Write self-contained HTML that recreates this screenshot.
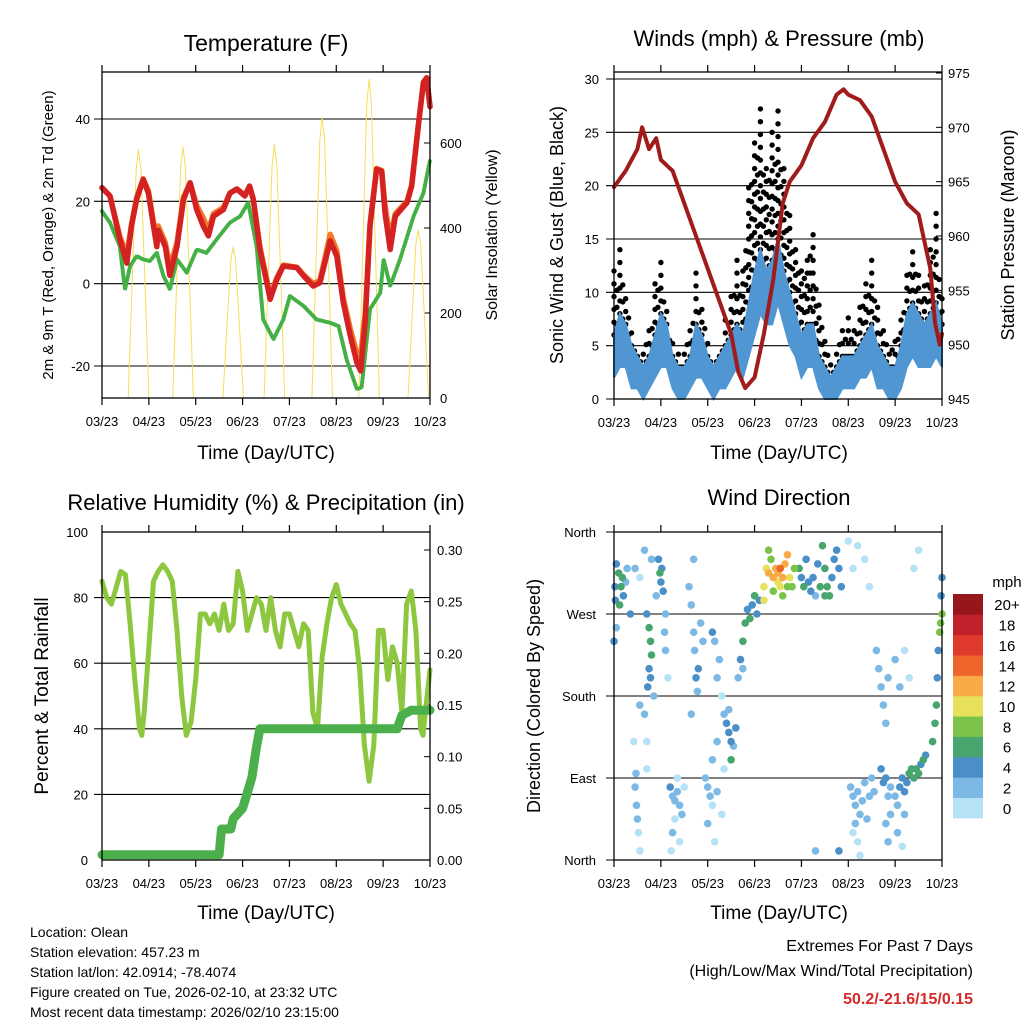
<!DOCTYPE html>
<html><head><meta charset="utf-8"><style>
html,body{margin:0;padding:0;background:#fff}
svg{display:block}
text{font-family:"Liberation Sans",Arial,sans-serif;fill:#000}
</style></head><body>
<svg id="root" width="1024" height="1024" viewBox="0 0 1024 1024" xmlns="http://www.w3.org/2000/svg">
<text x="266" y="51" font-size="23" text-anchor="middle">Temperature (F)</text>
<text x="779" y="46" font-size="22" text-anchor="middle">Winds (mph) &amp; Pressure (mb)</text>
<text x="266" y="510" font-size="22" text-anchor="middle">Relative Humidity (%) &amp; Precipitation (in)</text>
<text x="779" y="505" font-size="22" text-anchor="middle">Wind Direction</text>
<text x="266" y="459" font-size="19" text-anchor="middle">Time (Day/UTC)</text>
<text x="779" y="459" font-size="19" text-anchor="middle">Time (Day/UTC)</text>
<text x="266" y="919" font-size="19" text-anchor="middle">Time (Day/UTC)</text>
<text x="779" y="919" font-size="19" text-anchor="middle">Time (Day/UTC)</text>
<text transform="translate(53,235) rotate(-90)" font-size="15" text-anchor="middle">2m &amp; 9m T (Red, Orange) &amp; 2m Td (Green)</text>
<text transform="translate(497,235) rotate(-90)" font-size="16" text-anchor="middle">Solar Insolation (Yellow)</text>
<text transform="translate(563,235) rotate(-90)" font-size="18" text-anchor="middle">Sonic Wind &amp; Gust (Blue, Black)</text>
<text transform="translate(1014,235) rotate(-90)" font-size="18" text-anchor="middle">Station Pressure (Maroon)</text>
<text transform="translate(48,696) rotate(-90)" font-size="19" text-anchor="middle">Percent &amp; Total Rainfall</text>
<text transform="translate(540,696) rotate(-90)" font-size="18" text-anchor="middle">Direction (Colored By Speed)</text>
<g font-size="14">
<text x="30" y="937">Location: Olean</text>
<text x="30" y="957">Station elevation: 457.23 m</text>
<text x="30" y="977">Station lat/lon: 42.0914; -78.4074</text>
<text x="30" y="997">Figure created on Tue, 2026-02-10, at 23:32 UTC</text>
<text x="30" y="1017">Most recent data timestamp: 2026/02/10 23:15:00</text>
</g>
<g font-size="16" text-anchor="end">
<text x="973" y="951">Extremes For Past 7 Days</text>
<text x="973" y="976">(High/Low/Max Wind/Total Precipitation)</text>
<text x="973" y="1004" font-weight="bold" style="fill:#d42a2a">50.2/-21.6/15/0.15</text>
</g>
</svg>
<script>
// ---------- data ----------
const xTickLabels = ["03/23","04/23","05/23","06/23","07/23","08/23","09/23","10/23"];
const tempT = [0,.17,.38,.53,.63,.74,.88,.99,1.1,1.17,1.2,1.35,1.45,1.6,1.74,1.88,2.02,2.16,2.27,2.38,2.59,2.73,2.88,3.05,3.15,3.23,3.37,3.59,3.73,3.87,4.16,4.3,4.51,4.65,4.87,5.01,5.15,5.3,5.44,5.52,5.62,5.72,5.86,5.97,6.04,6.15,6.26,6.51,6.61,6.75,6.86,6.93,7];
const tempRed = [23.3,21.3,10.8,5,14,20.5,25.3,22,14,9,13,9,2,9,20.5,24.5,18,14,11.6,16.4,18,22,23,21.3,23.7,20.5,8.3,-3.8,1,4.3,3.9,1.9,-0.6,0.2,10.4,6.7,-4.6,-12.7,-19.2,-21.2,-8.7,14,27.8,27.3,17.2,8.3,16.4,19.7,23.7,38.3,48.8,50,43];
const tempOrange = [23.3,21.3,11.5,7,14.5,21,25.5,22.5,15,10.5,14,10,4,10,21,24.5,19,16,13,17,18.5,22,23,21.5,23.7,20.5,9,-3,1.5,4.5,4,2.2,0,0.8,12,8,-3.5,-11,-17,-17.5,-7,14.5,28,27.5,19,11,17,20,24,38.5,49,50,43];
const dewT = [0,.17,.38,.49,.6,.74,.88,1.02,1.17,1.31,1.45,1.6,1.81,2.02,2.23,2.45,2.73,2.95,3.12,3.3,3.44,3.66,3.87,4.01,4.3,4.58,4.87,5.05,5.22,5.44,5.54,5.72,5.94,6.01,6.15,6.36,6.65,6.86,7];
const dewVal = [17.6,14.8,9.1,-1.4,4.3,6.7,5.9,5.5,7.5,1.9,-1.4,5.9,2.7,8.3,7.5,10.8,14.8,16.4,19.7,9.1,-8.7,-13.5,-8.7,-3,-5.4,-8.7,-9.5,-10.3,-18.4,-25.6,-25.2,-6.2,-2.2,5.9,-0.6,5.9,16.4,22,30];
const solarNoon = [0.78,1.73,2.8,3.68,4.7,5.7,6.75];
const solarPeak = [585,590,355,596,660,750,395];
const tempYTicks = [40,20,0,-20];
const solarTicks = [0,200,400,600];

const windT = [0,.125,.25,.375,.5,.625,.75,.875,1,1.125,1.25,1.375,1.5,1.625,1.75,1.875,2,2.125,2.25,2.375,2.5,2.625,2.75,2.875,3,3.125,3.25,3.375,3.5,3.625,3.75,3.875,4,4.125,4.25,4.375,4.5,4.625,4.75,4.875,5,5.125,5.25,5.375,5.5,5.625,5.75,5.875,6,6.125,6.25,6.375,6.5,6.625,6.75,6.875,7];
const windHi = [6,8,7,5,4,3,4,6,8,7,4,3,3,4,7,6,4,3,4,5,6,7,6,9,12,14,12,13,15,12,10,8,6,7,7,4,3,2,3,4,4,4,5,6,7,5,4,3,3,5,8,9,8,7,8,9,7];
const windLo = [2,3,3,1,1,0,1,2,3,3,1,0,0,1,2,2,1,0,1,1,2,3,2,4,6,8,7,7,9,7,5,4,2,3,3,1,0,0,0,1,1,1,2,2,3,1,1,0,0,1,3,4,3,3,3,4,3];
const gust = [12,14,10,7,5,5,7,11,13,9,6,5,5,7,12,9,6,4,5,8,10,13,12,20,25,28,22,25,27,22,18,15,12,14,16,9,6,4,5,7,8,7,9,11,13,9,7,5,6,8,12,14,12,11,14,18,10];
const presT = [0,.25,.5,.6,.75,.9,1,1.25,1.5,1.75,2,2.25,2.5,2.65,2.8,3,3.2,3.4,3.6,3.75,4,4.25,4.5,4.75,4.9,5,5.25,5.5,5.75,6,6.25,6.5,6.75,6.85,6.95,7];
const presVal = [964.5,966,968,970,968,969,967,966,963,960,957,954,951,947.5,946,947,951,956,963,965,966.5,969,970.5,973,973.5,973,972.5,971,968,965,963,962,957,952,950,951];
const windTicks = [0,5,10,15,20,25,30];
const presTicks = [945,950,955,960,965,970,975];

const rhT = [0,.1,.2,.3,.4,.5,.6,.7,.8,.85,.9,1,1.1,1.2,1.3,1.4,1.5,1.6,1.7,1.8,1.9,2,2.1,2.2,2.3,2.4,2.5,2.6,2.7,2.8,2.9,3,3.1,3.2,3.3,3.4,3.5,3.6,3.7,3.8,3.9,4,4.1,4.2,4.3,4.4,4.5,4.6,4.7,4.8,4.9,5,5.1,5.2,5.3,5.4,5.5,5.6,5.7,5.8,5.9,6,6.1,6.2,6.3,6.4,6.5,6.6,6.7,6.8,6.85,6.9,7];
const rhVal = [85,80,78,83,88,87,72,55,40,38,45,65,85,88,90,88,85,70,50,38,42,55,75,75,72,75,70,78,70,72,88,82,70,75,80,78,70,80,70,65,75,75,70,65,72,70,45,40,62,72,80,84,78,75,72,70,58,35,24,35,70,70,55,65,60,45,78,82,70,40,38,45,58];
const precipT = [0,2.5,2.55,2.75,2.8,3.0,3.1,3.2,3.3,3.37,6.3,6.4,6.6,7.0];
const precipVal = [0.005,0.005,0.03,0.03,0.04,0.05,0.065,0.08,0.11,0.127,0.127,0.14,0.145,0.145];
const rhTicks = [0,20,40,60,80,100];
const precipTicks = ["0.00","0.05","0.10","0.15","0.20","0.25","0.30"];

const wdT = [0.02,0.03,0.05,0.1,0.15,0.2,0.25,0.28,0.35,0.0,0.05,0.12,0.18,
0.45,0.48,0.5,0.52,0.55,0.47,0.42,0.55,0.45,0.55,
0.7,0.75,0.78,0.8,0.75,0.72,0.78,0.85,0.65,0.7,0.7,0.8,0.65,
0.95,0.98,1.0,1.02,0.9,1.05,1.1,1.08,1.1,1.15,
1.2,1.25,1.3,1.35,1.4,1.3,1.25,1.22,1.4,1.35,1.45,1.5,
1.6,1.65,1.7,1.72,1.75,1.8,1.78,1.85,1.9,1.7,1.65,
1.95,2.0,2.05,2.1,2.0,2.15,2.2,2.3,2.35,2.1,2.2,2.1,2.15,2.2,2.25,2.3,
2.4,2.45,2.5,2.55,2.6,2.5,2.35,2.45,
2.65,2.7,2.75,2.8,2.85,2.9,2.95,3.0,3.05,3.1,2.75,
3.2,3.25,3.3,3.35,3.4,3.45,3.5,3.55,3.6,3.65,3.7,3.75,3.8,3.85,3.4,3.55,3.3,3.2,3.5,3.7,3.6,
3.95,4.0,4.05,4.1,4.15,4.2,4.25,4.3,4.35,4.45,4.5,4.55,4.6,4.65,4.75,4.8,4.85,4.7,4.4,4.5,4.3,4.8,
5.05,5.1,5.15,5.2,5.25,5.3,5.35,5.4,5.1,5.2,5.25,5.45,5.5,5.55,5.15,5.0,5.2,5.35,5.1,5.45,
5.6,5.65,5.7,5.75,5.8,5.85,5.7,5.75,5.8,5.85,5.9,5.8,5.85,5.9,
6.0,6.05,6.1,6.15,6.2,6.25,6.3,6.35,6.4,6.45,6.5,6.55,6.6,6.65,6.05,6.15,6.2,6.0,6.1,6.2,6.3,6.4,6.5,
6.8,6.85,6.88,6.9,6.92,6.95,6.97,7.0,6.98,7.0];
const wdDir = [300,285,325,315,300,290,305,320,270,240,255,280,310,
80,60,45,30,10,95,130,170,320,310,
270,255,240,225,210,190,200,180,160,130,100,330,340,
330,315,305,320,290,295,270,250,230,200,
80,70,65,75,60,45,30,10,20,90,50,80,
300,280,250,230,200,210,185,260,240,330,160,
90,80,70,60,40,20,75,50,100,110,130,250,240,200,220,180,
150,140,130,125,145,110,160,165,
200,220,240,260,275,265,280,290,270,285,210,
300,320,340,330,310,320,315,320,310,325,335,310,300,320,295,300,315,285,305,300,290,
320,310,300,330,305,295,310,290,325,345,320,300,290,310,340,320,300,330,300,290,10,10,
80,70,60,75,50,65,85,45,30,20,5,70,90,75,40,350,345,330,320,300,
230,210,190,170,150,200,100,85,90,70,50,40,20,80,
70,60,80,90,75,85,95,100,90,100,95,105,110,115,30,15,50,220,190,230,200,320,340,
130,150,170,200,230,250,260,270,290,310];
const wdSpd = [4,4,5,6,6,4,3,3,4,4,3,6,6,
3,2,2,1,1,2,1,2,2,1,
4,7,6,6,4,4,4,3,2,1,1,3,2,
4,6,5,4,3,4,2,2,2,1,
4,3,2,2,2,1,2,1,1,1,2,1,
2,2,3,3,4,4,3,2,2,2,2,
2,3,2,1,2,1,2,1,1,2,2,4,3,2,2,1,
4,4,4,3,4,6,2,3,
3,4,6,6,4,7,5,6,4,4,2,
10,10,8,8,12,13,12,14,12,13,12,10,8,9,8,10,12,10,11,9,8,
7,4,6,5,4,4,4,3,4,7,7,6,7,5,4,4,4,4,6,7,3,4,
2,2,2,2,2,3,2,2,1,1,1,3,2,3,2,1,1,1,1,1,
3,2,3,2,3,2,4,4,4,3,2,2,2,3,
3,2,4,5,4,5,6,6,7,6,6,5,6,5,2,1,2,2,2,1,1,1,1,
6,6,6,4,4,8,8,8,4,4];
const speedColors = ["#b6e2f7","#7cb9e4","#4a8fc8","#48a56e","#7ac24a","#e6e05a","#f8aa46","#f0652a","#df3a2c","#c0212a","#96171b"];
const speedLabels = ["0","2","4","6","8","10","12","14","16","18","20+"];
const dirLabels = ["North","East","South","West","North"];
const dirTicks = [0,90,180,270,360];

// ---------- helpers ----------
const NS="http://www.w3.org/2000/svg";
const root=document.getElementById('root');
function mk(tag,attrs,parent){const e=document.createElementNS(NS,tag);for(const k in attrs)e.setAttribute(k,attrs[k]);(parent||root).appendChild(e);return e;}
function lin(d0,d1,r0,r1){return v=>r0+(v-d0)*(r1-r0)/(d1-d0);}

function frame(x0,y0,x1,y1,name){
  const g=mk('g',{});
  
  
  const xs=lin(0,7,x0,x1);
  for(let i=0;i<8;i++){
    const x=xs(i);
    const t1=mk('line',{x1:x,y1:y1,x2:x,y2:y1+7,stroke:'#000','stroke-width':1.2},g);
    
    
    mk('line',{x1:x,y1:y0,x2:x,y2:y0-7,stroke:'#000','stroke-width':1.2},g);
    const tx=mk('text',{x:x,y:y1+28,'font-size':13,'text-anchor':'middle'},g);
    tx.textContent=xTickLabels[i];
    
    
  }
  const r=mk('rect',{x:x0,y:y0,width:x1-x0,height:y1-y0,fill:'none',stroke:'#000','stroke-width':1.3},g);
  
  
  return xs;
}
function grid(y,x0,x1){
  const l=mk('line',{x1:x0-8,y1:y,x2:x1,y2:y,stroke:'#000','stroke-width':1.1});
  
  
}
function label(txt,x,y,anchor,name){
  const t=mk('text',{x:x,y:y+5,'font-size':13,'text-anchor':anchor});
  t.textContent=txt;
  
  
}
function poly(xsArr,ysArr,xs,ys,attrs,name){
  const pts=xsArr.map((t,i)=>xs(t).toFixed(1)+','+ys(ysArr[i]).toFixed(1)).join(' ');
  const p=mk('polyline',Object.assign({points:pts,fill:'none','stroke-linejoin':'round','stroke-linecap':'round'},attrs));
  
  
  return p;
}

// ---------- Panel 1: temperature ----------
(function(){
  const x0=102,x1=430,y0=72,y1=398;
  const ys=lin(40,-20,119,366);
  const ss=lin(0,600,398,143);
  const xs=lin(0,7,x0,x1);
  tempYTicks.forEach(v=>{grid(ys(v),x0,x1);label(String(v),x0-12,ys(v),'end','temp-y-tick-label');});
  solarTicks.forEach(v=>{label(String(v),x1+10,ss(v),'start','solar-tick-label');
    const tk=mk('line',{x1:x1,y1:ss(v),x2:x1-6,y2:ss(v),stroke:'#000'});
    
    });
  solarNoon.forEach((n,i)=>{
    const ts=[n-0.22,n-0.12,n-0.05,n,n+0.05,n+0.12,n+0.22];
    const fr=[0,0.55,0.92,1,0.92,0.55,0];
    const vs=fr.map(f=>f*solarPeak[i]);
    poly(ts,vs,xs,v=>ss(Math.min(v,760)),{stroke:'#f7de5a','stroke-width':1},'solar-day-'+i);
  });
  poly(dewT,dewVal,xs,ys,{stroke:'#45b045','stroke-width':4,'stroke-dasharray':'2 2'},'dewpoint-line');
  poly(tempT,tempOrange,xs,ys,{stroke:'#f2792a','stroke-width':5.5},'temp-9m-line');
  poly(tempT,tempRed,xs,ys,{stroke:'#d42222','stroke-width':5.5},'temp-2m-line');
  frame(x0,y0,x1,y1,'temperature');
})();

// ---------- Panel 2: winds ----------
(function(){
  const x0=614,x1=942,y0=72,y1=399;
  const ws=lin(0,30,399,79);
  const ps=lin(945,975,399,73);
  const xs=lin(0,7,x0,x1);
  windTicks.forEach(v=>{grid(ws(v),x0,x1);label(String(v),x0-15,ws(v),'end','wind-tick-label');});
  presTicks.forEach(v=>{label(String(v),x1+6,ps(v),'start','pressure-tick-label');
    const tk=mk('line',{x1:x1,y1:ps(v),x2:x1-6,y2:ps(v),stroke:'#000'});
    
    });
  // black gust dots: columns of dots from sonic high up to gust value
  windT.forEach((t,i)=>{
    for(let v=windHi[i]; v<=gust[i]+0.01; v+=1.2){
      const c=mk('circle',{cx:xs(t).toFixed(1),cy:ws(v).toFixed(1),r:2.7,fill:'#000'});
      
      
    }
    if(i<windT.length-1){
      const tm=(t+windT[i+1])/2, gm=(gust[i]+gust[i+1])/2, hm=(windHi[i]+windHi[i+1])/2;
      for(let v=hm; v<=gm*0.9+0.01; v+=1.6){
        const c=mk('circle',{cx:xs(tm).toFixed(1),cy:ws(v).toFixed(1),r:2.7,fill:'#000'});
        
        
      }
    }
  });
  const pts=windT.map((t,i)=>xs(t)+','+ws(windHi[i])).join(' ')+' '+windT.slice().reverse().map((t,j)=>{const i=windT.length-1-j;return xs(t)+','+ws(windLo[i]);}).join(' ');
  const wb=mk('polygon',{points:pts,fill:'#4f96d2',stroke:'#4f96d2','stroke-width':2});
  
  
  poly(presT,presVal,xs,ps,{stroke:'#a01c1c','stroke-width':4},'pressure-line');
  frame(x0,y0,x1,y1,'winds');
})();

// ---------- Panel 3: humidity ----------
(function(){
  const x0=102,x1=430,y0=532,y1=860;
  const hs=lin(0,100,860,532);
  const ps=lin(0,0.30,860,550);
  const xs=lin(0,7,x0,x1);
  rhTicks.forEach(v=>{if(v>0&&v<100)grid(hs(v),x0,x1);label(String(v),x0-14,hs(v),'end','rh-tick-label');});
  precipTicks.forEach(v=>{label(v,x1+7,ps(parseFloat(v)),'start','precip-tick-label');
    const tk=mk('line',{x1:x1,y1:ps(parseFloat(v)),x2:x1-6,y2:ps(parseFloat(v)),stroke:'#000'});
    
    });
  poly(rhT,rhVal,xs,hs,{stroke:'#8dc63f','stroke-width':5},'humidity-line');
  poly(precipT,precipVal,xs,ps,{stroke:'#4bb04b','stroke-width':9},'precipitation-line');
  frame(x0,y0,x1,y1,'humidity');
})();

// ---------- Panel 4: wind direction ----------
(function(){
  const x0=614,x1=942,y0=532,y1=860;
  const ds=lin(0,360,860,532);
  const xs=lin(0,7,x0,x1);
  dirTicks.forEach((v,i)=>{grid(ds(v),x0,x1);label(dirLabels[i],x0-18,ds(v),'end','direction-tick-label');});
  const order=wdT.map((t,i)=>i).sort((a,b)=>wdSpd[a]-wdSpd[b]);
  order.forEach(i=>{
    const idx=Math.min(10,Math.floor(wdSpd[i]/2));
    const c=mk('circle',{cx:xs(wdT[i]).toFixed(1),cy:ds(wdDir[i]).toFixed(1),r:3.8,fill:speedColors[idx]});
    
    
  });
  frame(x0,y0,x1,y1,'wind-direction');
  const cb=mk('g',{});
  
  
  const top=594,h=224/11;
  speedColors.forEach((c,i)=>{
    const y=top+(10-i)*h;
    const r=mk('rect',{x:953,y:y,width:30,height:h+0.4,fill:c},cb);
    
    
    const t=mk('text',{x:1007,y:y+h/2+6,'font-size':15,'text-anchor':'middle'},cb);
    t.textContent=speedLabels[i];
    
    
  });
  const u=mk('text',{x:1007,y:587,'font-size':15,'text-anchor':'middle'},cb);
  u.textContent='mph';
  
  
})();
</script>
</body></html>
